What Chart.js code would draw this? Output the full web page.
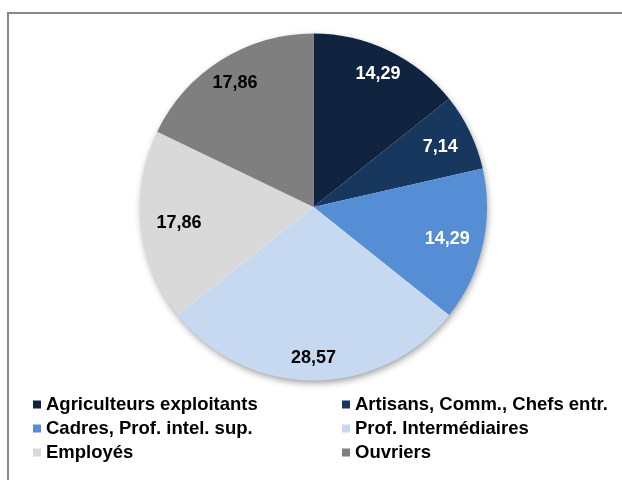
<!DOCTYPE html>
<html>
<head>
<meta charset="utf-8">
<script src="https://cdn.jsdelivr.net/npm/chart.js@4/dist/chart.umd.min.js"></script>
<style>
  html, body { margin: 0; padding: 0; background: #ffffff; }
  #wrap { position: relative; width: 622px; height: 480px; overflow: hidden; }
  #frame { position: absolute; left: 7px; top: 12px; width: 660px; height: 520px; border: 2px solid #878787; box-sizing: border-box; }
  #c { position: absolute; left: 0; top: 0; }
</style>
</head>
<body>
<div id="wrap">
  <div id="frame"></div>
  <canvas id="c" width="622" height="480"></canvas>
</div>
<script>
const categories = [
  "Agriculteurs exploitants",
  "Artisans, Comm., Chefs entr.",
  "Cadres, Prof. intel. sup.",
  "Prof. Intermédiaires",
  "Employés",
  "Ouvriers"
];
const values = [14.29, 7.14, 14.29, 28.57, 17.86, 17.86];
const colors = ["#10243F", "#17375E", "#558ED5", "#C6D9F1", "#D9D9D9", "#7F7F7F"];
const labelColors = ["#ffffff", "#ffffff", "#ffffff", "#000000", "#000000", "#000000"];

const FONT = '"Liberation Sans", Arial, sans-serif';
const fmt = v => v.toFixed(2).replace('.', ',');

const shadowPlugin = {
  id: 'pieShadow',
  beforeDatasetsDraw(chart) {
    const arc = chart.getDatasetMeta(0).data[0];
    if (!arc) return;
    const ctx = chart.ctx;
    ctx.save();
    ctx.shadowColor = 'rgba(0,0,0,0.4)';
    ctx.shadowBlur = 7;
    ctx.shadowOffsetX = 1;
    ctx.shadowOffsetY = 3;
    ctx.fillStyle = '#ffffff';
    ctx.beginPath();
    ctx.arc(arc.x, arc.y, arc.outerRadius - 0.5, 0, Math.PI * 2);
    ctx.fill();
    ctx.restore();
  }
};

const labelPlugin = {
  id: 'sliceLabels',
  afterDatasetsDraw(chart) {
    const ctx = chart.ctx;
    const meta = chart.getDatasetMeta(0);
    ctx.save();
    ctx.font = 'bold 18px ' + FONT;
    ctx.textAlign = 'center';
    ctx.textBaseline = 'middle';
    meta.data.forEach((arc, i) => {
      const mid = (arc.startAngle + arc.endAngle) / 2;
      const fromTop = mid + Math.PI / 2;
      const f = 0.77 + 0.095 * Math.abs(Math.cos(fromTop));
      const d = arc.outerRadius * f;
      const x = arc.x + Math.cos(mid) * d;
      const y = arc.y + Math.sin(mid) * d;
      ctx.fillStyle = labelColors[i];
      ctx.fillText(fmt(values[i]), x, y + 1);
    });
    ctx.restore();
  }
};

const legendPlugin = {
  id: 'twoColLegend',
  afterDraw(chart) {
    const ctx = chart.ctx;
    ctx.save();
    ctx.font = 'bold 18.5px ' + FONT;
    ctx.textAlign = 'left';
    ctx.textBaseline = 'alphabetic';
    const colX = [33, 342];
    const baseY = 410, rowH = 24, box = 8;
    categories.forEach((name, i) => {
      const col = i % 2, row = Math.floor(i / 2);
      const x = colX[col], y = baseY + row * rowH;
      ctx.fillStyle = colors[i];
      ctx.fillRect(x, y - box - 1.5, box, box);
      ctx.fillStyle = '#000000';
      ctx.fillText(name, x + 13, y);
    });
    ctx.restore();
  }
};

new Chart(document.getElementById('c'), {
  type: 'pie',
  data: {
    labels: categories,
    datasets: [{
      data: values,
      backgroundColor: colors,
      borderWidth: 0
    }]
  },
  options: {
    responsive: false,
    animation: false,
    layout: { padding: { left: 140, right: 135, top: 33, bottom: 99 } },
    plugins: {
      legend: { display: false },
      tooltip: { enabled: false },
      title: { display: false }
    }
  },
  plugins: [shadowPlugin, labelPlugin, legendPlugin]
});
</script>
</body>
</html>
